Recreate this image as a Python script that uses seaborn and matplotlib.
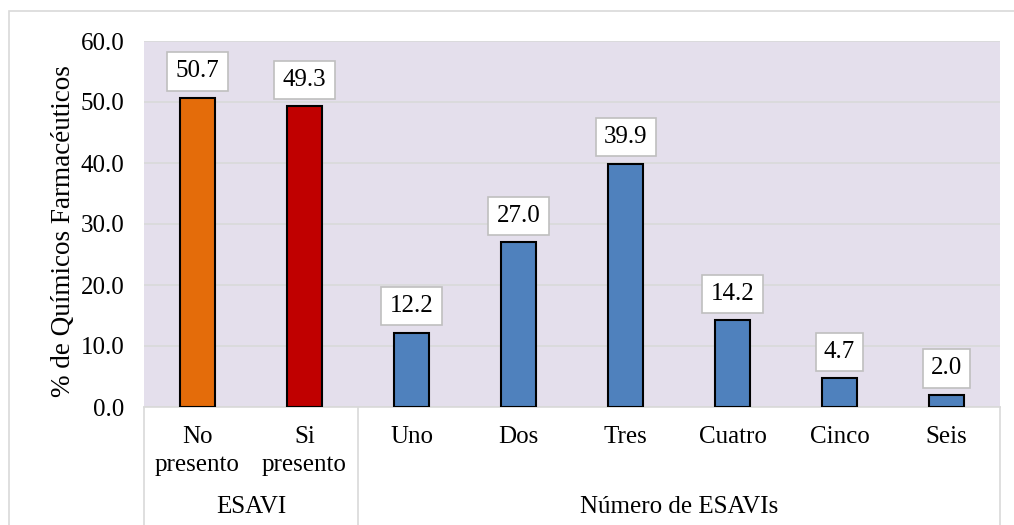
import matplotlib
matplotlib.use("Agg")
import matplotlib.pyplot as plt
import seaborn as sns
import pandas as pd
from matplotlib.patches import Rectangle

categorias = ["No\npresento", "Si\npresento", "Uno", "Dos", "Tres", "Cuatro", "Cinco", "Seis"]
valores = [50.7, 49.3, 12.2, 27.0, 39.9, 14.2, 4.7, 2.0]
colores = ["#E46C0A", "#C00000", "#4F81BD", "#4F81BD", "#4F81BD", "#4F81BD", "#4F81BD", "#4F81BD"]
grupos = ["ESAVI", "Número de ESAVIs"]
grupo_tam = [2, 6]

sns.set_theme(style="white")
plt.rcParams["font.family"] = ["Liberation Serif", "DejaVu Serif"]
plt.rcParams["text.color"] = "black"
plt.rcParams["axes.labelcolor"] = "black"

df = pd.DataFrame({"cat": categorias, "val": valores})

fig = plt.figure(figsize=(10.14, 5.25), dpi=100)
ax = fig.add_axes([144 / 1014, 1 - 407 / 525, 856 / 1014, 366 / 525])

# marco exterior del grafico
fig.patches.append(Rectangle((9 / 1014, -0.1), 1.2, 1 - 11 / 525 + 0.1,
                             transform=fig.transFigure, fill=False,
                             edgecolor="#D9D9D9", linewidth=1.2, zorder=0))

sns.barplot(data=df, x="cat", y="val", hue="cat", palette=colores, order=categorias,
            saturation=1, width=0.32, edgecolor="black", linewidth=1.5, legend=False,
            ax=ax, zorder=3)

ax.set_facecolor("#E4DFEC")
ax.set_ylim(0, 60)
ax.set_xlim(-0.5, len(categorias) - 0.5)
ax.set_yticks(range(0, 61, 10))
ax.set_yticklabels([f"{v:.1f}" for v in range(0, 61, 10)])
ax.grid(axis="y", color="#D9D9D9", linewidth=1.2, zorder=0)
ax.set_axisbelow(True)
for s in ["top", "left", "right"]:
    ax.spines[s].set_visible(False)
ax.spines["bottom"].set_color("#D9D9D9")
ax.spines["bottom"].set_linewidth(1.2)
ax.tick_params(axis="y", length=0, pad=14, labelsize=18, colors="black")
ax.tick_params(axis="x", length=0, pad=14, labelsize=18, colors="black")
for t in ax.get_xticklabels():
    t.set_linespacing(1.3)
ax.set_xlabel("")
ax.set_ylabel("% de Químicos Farmacéuticos", fontsize=19.5)
ax.yaxis.set_label_coords(-0.08, 0.48)

# etiquetas de datos
for i, v in enumerate(valores):
    ax.annotate(f"{v:.1f}", (i, v), xytext=(0, 19), textcoords="offset points",
                ha="center", va="center", fontsize=18,
                bbox=dict(boxstyle="square,pad=0.33", fc="white", ec="#BFBFBF", lw=1.2),
                zorder=5)

# eje de categorias de dos niveles
tr = ax.get_xaxis_transform()
inicio = -0.5
ax.plot([inicio, inicio], [0, -0.33], transform=tr, color="#D9D9D9", lw=1.2, clip_on=False)
for g, n in zip(grupos, grupo_tam):
    fin = inicio + n
    ax.plot([fin, fin], [0, -0.33], transform=tr, color="#D9D9D9", lw=1.2, clip_on=False)
    ax.text((inicio + fin) / 2, -0.272, g, transform=tr, ha="center", va="center",
            fontsize=18)
    inicio = fin

fig.savefig("out.png", dpi=100)
